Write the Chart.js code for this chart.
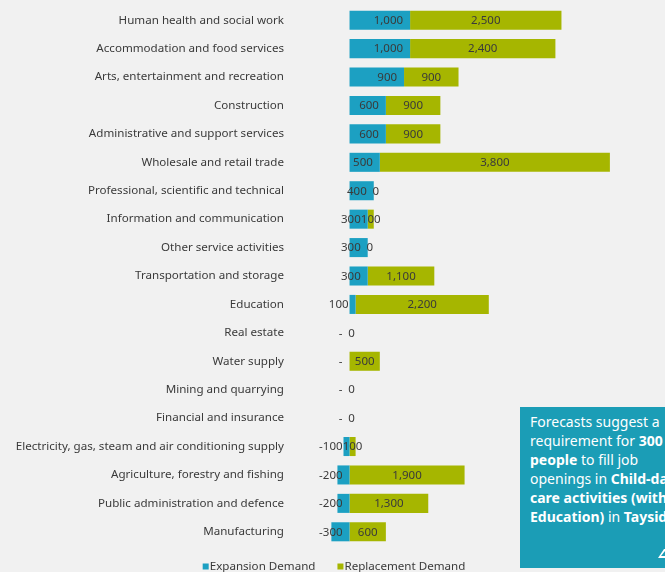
<!DOCTYPE html>
<html>
<head>
<meta charset="utf-8">
<script src="https://cdn.jsdelivr.net/npm/chart.js@4/dist/chart.umd.min.js"></script>
<style>
  html, body { margin: 0; padding: 0; background: #f1f1f1; }
  #wrap { position: relative; width: 665px; height: 572px; overflow: hidden; background: #f1f1f1; }
  #chart { position: absolute; left: 0; top: 0; }
  .note {
    position: absolute; left: 520px; top: 407px; width: 170px; height: 161px;
    background: #1b9db6; color: #fff; box-sizing: border-box;
    padding: 5px 0 0 10px; white-space: nowrap;
    font-family: "Noto Sans", sans-serif; font-size: 14px; line-height: 19px;
  }
  .note b { font-weight: 700; }
  .note svg { position: absolute; left: 137px; top: 140px; }
</style>
</head>
<body>
<div id="wrap">
  <canvas id="chart" width="665" height="572"></canvas>
  <div class="note">
    Forecasts suggest a<br>
    requirement for <b>300</b><br>
    <b>people</b> to fill job<br>
    openings in <b>Child-day</b><br>
    <b>care activities (within</b><br>
    <b>Education)</b> in <b>Tayside</b>
    <svg width="12" height="12" viewBox="0 0 12 12"><polygon points="1,11 7,2 12,2 12,11" fill="#ffffff"/><polygon points="4,9 8,4 12,4 12,9" fill="#1b9db6"/></svg>
  </div>
</div>
<script>
// Sectors, top to bottom
const categories = [
  "Human health and social work",
  "Accommodation and food services",
  "Arts, entertainment and recreation",
  "Construction",
  "Administrative and support services",
  "Wholesale and retail trade",
  "Professional, scientific and technical",
  "Information and communication",
  "Other service activities",
  "Transportation and storage",
  "Education",
  "Real estate",
  "Water supply",
  "Mining and quarrying",
  "Financial and insurance",
  "Electricity, gas, steam and air conditioning supply",
  "Agriculture, forestry and fishing",
  "Public administration and defence",
  "Manufacturing"
];
const expansionDemand   = [1000, 1000, 900, 600, 600, 500, 400, 300, 300, 300, 100, 0, 0, 0, 0, -100, -200, -200, -300];
const replacementDemand = [2500, 2400, 900, 900, 900, 3800, 0, 100, 0, 1100, 2200, 0, 500, 0, 0, 100, 1900, 1300, 600];
const seriesNames = ["Expansion Demand", "Replacement Demand"];

const TEAL = "rgb(28,160,194)";
const GREEN = "rgb(166,182,0)";
const TEXT = "#3a3a3a";
const FONT = "Noto Sans";

Chart.defaults.font.family = FONT;
Chart.defaults.color = TEXT;

const fmt = v => Math.abs(v).toLocaleString("en-US");

// Value labels: expansion right-aligned just inside the bar's right edge,
// replacement centred on its segment.
const valueLabels = {
  id: "valueLabels",
  afterDatasetsDraw(chart) {
    const ctx = chart.ctx;
    ctx.save();
    ctx.font = "11.5px " + FONT;
    ctx.fillStyle = TEXT;
    ctx.textBaseline = "middle";
    chart.data.datasets.forEach((ds, di) => {
      const meta = chart.getDatasetMeta(di);
      meta.data.forEach((bar, i) => {
        const v = ds.data[i];
        const { x, base, y } = bar.getProps(["x", "base", "y"], true);
        if (di === 0) {
          const right = Math.max(x, base);
          const txt = v === 0 ? "-" : (v < 0 ? "-" + fmt(v) : fmt(v));
          ctx.textAlign = "right";
          ctx.fillText(txt, right - 7, y + 0.5);
        } else {
          ctx.textAlign = "center";
          ctx.fillText(fmt(v), (x + base) / 2 + (v === 0 ? 2 : 0), y + 0.5);
        }
      });
    });
    ctx.restore();
  }
};

// Compact legend row under the bars: small square swatch tight to its label.
const bottomLegend = {
  id: "bottomLegend",
  afterDraw(chart) {
    const ctx = chart.ctx;
    ctx.save();
    ctx.font = "11.6px " + FONT;
    ctx.textBaseline = "middle";
    const y = 566.5;
    const items = chart.data.datasets.map(ds => ({ text: ds.label, color: ds.backgroundColor, w: ctx.measureText(ds.label).width }));
    const sw = 6, gapIn = 1, gapOut = 22;
    const total = items.reduce((s, it) => s + sw + gapIn + it.w, 0) + gapOut * (items.length - 1);
    let x = 334 - total / 2;
    items.forEach(it => {
      ctx.fillStyle = it.color;
      ctx.fillRect(x, y - 3, sw, sw);
      ctx.fillStyle = TEXT;
      ctx.textAlign = "left";
      ctx.fillText(it.text, x + sw + gapIn, y);
      x += sw + gapIn + it.w + gapOut;
    });
    ctx.restore();
  }
};

new Chart(document.getElementById("chart"), {
  type: "bar",
  data: {
    labels: categories,
    datasets: [
      { label: seriesNames[0], data: expansionDemand, backgroundColor: TEAL },
      { label: seriesNames[1], data: replacementDemand, backgroundColor: GREEN }
    ]
  },
  options: {
    indexAxis: "y",
    responsive: false,
    animation: false,
    devicePixelRatio: 1,
    layout: { padding: { top: 6, right: 43, left: 0, bottom: 26 } },
    datasets: { bar: { categoryPercentage: 1, barPercentage: 0.67, borderWidth: 0 } },
    scales: {
      x: {
        stacked: true,
        min: -1000,
        max: 4500,
        display: true,
        ticks: { display: false, stepSize: 1000 },
        border: { display: false },
        grid: {
          drawTicks: false,
          lineWidth: 1,
          color: c => (c.tick && c.tick.value === 0 ? "#d6d6d6" : "rgba(0,0,0,0)")
        },
        afterFit: s => { s.height = 0; s.paddingLeft = 0; s.paddingRight = 0; }
      },
      y: {
        stacked: true,
        border: { display: false },
        grid: { display: false, drawTicks: false },
        ticks: { padding: 5, color: TEXT, font: { size: 11.6, family: FONT } },
        afterFit: s => { s.width = 289; s.paddingTop = 0; s.paddingBottom = 0; }
      }
    },
    plugins: {
      legend: { display: false },
      tooltip: { enabled: false }
    }
  },
  plugins: [valueLabels, bottomLegend]
});
</script>
</body>
</html>
